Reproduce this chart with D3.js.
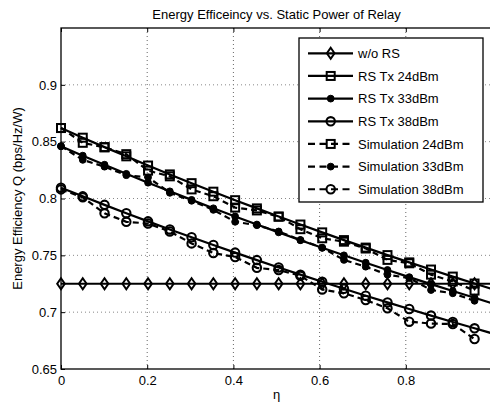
<!DOCTYPE html>
<html>
<head>
<meta charset="utf-8">
<script src="https://cdn.jsdelivr.net/npm/d3@7"></script>
<style>
  body { margin: 0; background: #fff; }
  text { font-family: "Liberation Sans", Arial, sans-serif; font-size: 13px; fill: #000; }
</style>
</head>
<body>
<div id="chart"></div>
<script>
// eta sample points (markers) and the extra end point the analytic curves run to
const eta = [0, 0.0505, 0.101, 0.1515, 0.202, 0.2525, 0.303, 0.3535, 0.404, 0.4545,
             0.505, 0.5555, 0.606, 0.6565, 0.707, 0.7575, 0.808, 0.8585, 0.909, 0.9595];
const etaLine = eta.concat([1]);

// analytic curves (21 values, last one at eta = 1)
const woRS  = [0.725, 0.725, 0.725, 0.725, 0.725, 0.725, 0.725, 0.725, 0.725, 0.725,
               0.725, 0.725, 0.725, 0.725, 0.725, 0.725, 0.725, 0.725, 0.725, 0.725, 0.725];
const tx24  = [0.862, 0.8535, 0.8452, 0.8371, 0.8290, 0.8212, 0.8135, 0.8060, 0.7985, 0.7913,
               0.7841, 0.7771, 0.7702, 0.7634, 0.7568, 0.7502, 0.7438, 0.7375, 0.7313, 0.7252, 0.7203];
const tx33  = [0.846, 0.8377, 0.8297, 0.8217, 0.8139, 0.8063, 0.7988, 0.7914, 0.7842, 0.7771,
               0.7702, 0.7633, 0.7566, 0.7500, 0.7435, 0.7371, 0.7308, 0.7247, 0.7186, 0.7127, 0.7079];
const tx38  = [0.8095, 0.8019, 0.7944, 0.7871, 0.7799, 0.7728, 0.7659, 0.7591, 0.7524, 0.7458,
               0.7393, 0.7330, 0.7267, 0.7206, 0.7145, 0.7086, 0.7028, 0.6970, 0.6914, 0.6858, 0.6814];

// simulation points (20 values)
const sim24 = [0.862, 0.849, 0.845, 0.839, 0.8245, 0.8195, 0.808, 0.802, 0.792, 0.7895,
               0.784, 0.773, 0.765, 0.762, 0.756, 0.746, 0.743, 0.733, 0.727, 0.719];
const sim33 = [0.846, 0.834, 0.828, 0.8205, 0.8186, 0.805, 0.798, 0.790, 0.7795, 0.7765,
               0.771, 0.7635, 0.7567, 0.746, 0.740, 0.733, 0.730, 0.7195, 0.7166, 0.710];
const sim38 = [0.808, 0.801, 0.787, 0.7795, 0.778, 0.771, 0.7605, 0.752, 0.7485, 0.739,
               0.737, 0.732, 0.720, 0.7166, 0.7107, 0.7034, 0.6916, 0.690, 0.6895, 0.6764];

const xTicks = [0, 0.2, 0.4, 0.6, 0.8];
const yTicks = [0.65, 0.7, 0.75, 0.8, 0.85, 0.9];

const series = [
  {name: 'w/o RS',           xs: etaLine, ys: woRS,  marker: 'diamond', dash: null},
  {name: 'RS Tx 24dBm',      xs: etaLine, ys: tx24,  marker: 'square',  dash: null},
  {name: 'RS Tx 33dBm',      xs: etaLine, ys: tx33,  marker: 'dot',     dash: null},
  {name: 'RS Tx 38dBm',      xs: etaLine, ys: tx38,  marker: 'circle',  dash: null},
  {name: 'Simulation 24dBm', xs: eta,     ys: sim24, marker: 'square',  dash: '6,4'},
  {name: 'Simulation 33dBm', xs: eta,     ys: sim33, marker: 'dot',     dash: '6,4'},
  {name: 'Simulation 38dBm', xs: eta,     ys: sim38, marker: 'circle',  dash: '6,4'}
];

const width = 490, height = 405;
const margin = {top: 28, right: -2, bottom: 36, left: 61};
const innerW = width - margin.left - margin.right;
const innerH = height - margin.top - margin.bottom;

const svg = d3.select('#chart').append('svg')
  .attr('width', width)
  .attr('height', height);

const g = svg.append('g').attr('transform', `translate(${margin.left},${margin.top})`);

const x = d3.scaleLinear().domain([0, 1]).range([0, innerW]);
const y = d3.scaleLinear().domain([0.65, 0.95]).range([innerH, 0]);

// grid
g.append('g').selectAll('line').data(xTicks.filter(d => d > 0)).join('line')
  .attr('x1', d => x(d)).attr('x2', d => x(d))
  .attr('y1', 0).attr('y2', innerH)
  .attr('stroke', '#666').attr('stroke-dasharray', '1,3');
g.append('g').selectAll('line').data(yTicks.filter(d => d > 0.65)).join('line')
  .attr('x1', 0).attr('x2', innerW)
  .attr('y1', d => y(d)).attr('y2', d => y(d))
  .attr('stroke', '#888').attr('stroke-dasharray', '1,3');

// axes (ticks inward, matlab style)
const xAxis = g.append('g')
  .attr('transform', `translate(0,${innerH})`)
  .call(d3.axisBottom(x).tickValues(xTicks).tickFormat(d3.format('~g')).tickSizeInner(-4).tickSizeOuter(0).tickPadding(7));
const yAxis = g.append('g')
  .call(d3.axisLeft(y).tickValues(yTicks).tickFormat(d3.format('~g')).tickSizeInner(-4).tickSizeOuter(0).tickPadding(4));
[xAxis, yAxis].forEach(a => {
  a.select('.domain').remove();
  a.selectAll('text').style('font-size', '13px').attr('fill', '#000');
  a.selectAll('line').attr('stroke', '#000');
});
g.append('g').call(d3.axisTop(x).tickValues(xTicks).tickFormat('').tickSizeInner(-4).tickSizeOuter(0))
  .call(a => a.select('.domain').remove());

// box
g.append('rect')
  .attr('x', 0).attr('y', 0).attr('width', innerW).attr('height', innerH)
  .attr('fill', 'none').attr('stroke', '#000').attr('stroke-width', 1.3);

function drawMarker(sel, type) {
  if (type === 'diamond') {
    sel.append('path').attr('d', 'M0,-5.5L3.8,0L0,5.5L-3.8,0Z')
      .attr('fill', 'none').attr('stroke', '#000').attr('stroke-width', 2);
  } else if (type === 'square') {
    sel.append('rect').attr('x', -4).attr('y', -4).attr('width', 8).attr('height', 8)
      .attr('fill', 'none').attr('stroke', '#000').attr('stroke-width', 2);
  } else if (type === 'dot') {
    sel.append('circle').attr('r', 3.4).attr('fill', '#000').attr('stroke', '#000').attr('stroke-width', 1);
  } else {
    sel.append('circle').attr('r', 4.2)
      .attr('fill', 'none').attr('stroke', '#000').attr('stroke-width', 2.1);
  }
}

const line = d3.line().x(d => x(d[0])).y(d => y(d[1]));

series.forEach(s => {
  const pts = s.xs.map((v, i) => [v, s.ys[i]]);
  g.append('path')
    .datum(pts)
    .attr('d', line)
    .attr('fill', 'none')
    .attr('stroke', '#000')
    .attr('stroke-width', 2.2)
    .attr('stroke-dasharray', s.dash);
  g.append('g').selectAll('g').data(pts.slice(0, eta.length)).join('g')
    .attr('transform', d => `translate(${x(d[0])},${y(d[1])})`)
    .each(function () { drawMarker(d3.select(this), s.marker); });
});

// title and labels
svg.append('text')
  .attr('x', margin.left + innerW / 2).attr('y', 19)
  .attr('text-anchor', 'middle')
  .text('Energy Efficeincy vs. Static Power of Relay');

svg.append('text')
  .attr('transform', 'rotate(-90)')
  .attr('x', -(margin.top + innerH / 2)).attr('y', 22)
  .attr('text-anchor', 'middle')
  .text('Energy Efficiency Q (bps/Hz/W)');

svg.append('text')
  .attr('x', margin.left + innerW / 2).attr('y', 399)
  .attr('text-anchor', 'middle')
  .text('η');

// legend
const legend = svg.append('g').attr('transform', 'translate(299,38)');
legend.append('rect')
  .attr('width', 184).attr('height', 164)
  .attr('fill', '#fff').attr('stroke', '#000').attr('stroke-width', 1.3);

series.forEach((s, i) => {
  const row = legend.append('g').attr('transform', `translate(0,${15.3 + i * 22.66})`);
  row.append('line')
    .attr('x1', 9).attr('x2', 54)
    .attr('stroke', '#000').attr('stroke-width', 2.2)
    .attr('stroke-dasharray', s.dash ? '7,4.5' : null);
  drawMarker(row.append('g').attr('transform', 'translate(31.7,0)'), s.marker);
  row.append('text').attr('x', 59).attr('y', 4.6).text(s.name);
});
</script>
</body>
</html>
